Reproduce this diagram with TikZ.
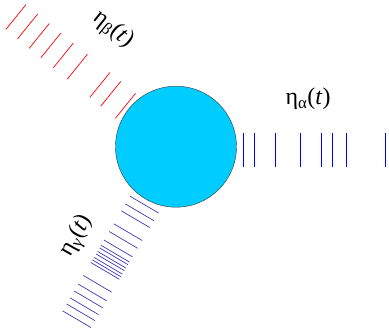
\documentclass[tikz,border=0pt]{standalone}
\usepackage{fontspec}
\setmainfont{Liberation Serif}
\usepackage{tikz}
\definecolor{particle}{RGB}{0,204,255}
\definecolor{gammablue}{RGB}{60,60,180}

\begin{document}
\begin{tikzpicture}[
    x=1pt, y=1pt,
    noiseA/.style={blue, line width=0.9pt},
    noiseB/.style={red, line width=0.7pt},
    noiseC/.style={gammablue, line width=0.7pt},
    lbl/.style={inner sep=0pt, font=\fontsize{24}{28}\selectfont}
]

% Bounding box
\useasboundingbox (-176,-186.3) rectangle (213,146.7);

% Particle
\node[circle, draw=black!80, fill=particle, minimum size=121pt, inner sep=0pt] (part) at (0,0) {};

% Bath alpha (right)
\foreach \d in {67.3,78,99.7,124.7,145.7,156.5,170,209.5}
    \draw[noiseA] (\d,-3.6) ++(0,17) -- ++(0,-34);

% Bath beta (upper left)
\foreach \d in {65,84,98,127,145,161,176,191,206}
    \draw[noiseB] (141:\d) ++(51:16) -- ++(231:32);

% Bath gamma (lower left)
\foreach \d in {66,75,83,98,107,117,123,126,130,133,137,140,143,158,168,176,184,191,199}
    \draw[noiseC] (239.5:\d) ++(-30.5:18.5) -- ++(149.5:33);

% Labels
\node[lbl] (la) at (132,47.7) {η\textsubscript{α}(\textit{t})};
\node[lbl, rotate=-39] (lb) at (-63,116.7) {η\textsubscript{β}(\textit{t})};
\node[lbl, rotate=60] (lc) at (-99,-89.3) {η\textsubscript{γ}(\textit{t})};

\end{tikzpicture}
\end{document}
